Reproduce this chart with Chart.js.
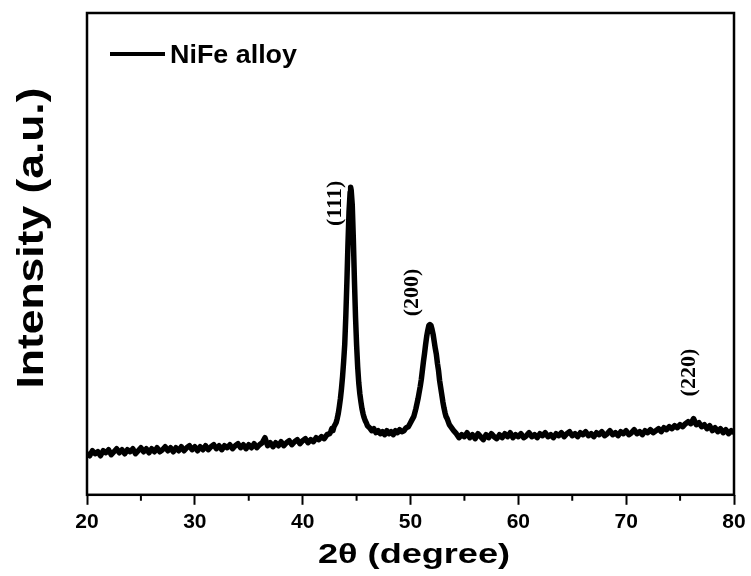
<!DOCTYPE html>
<html>
<head>
<meta charset="utf-8">
<style>
  html, body { margin: 0; padding: 0; background: #fff; }
  canvas { display: block; }
</style>
</head>
<body>
<canvas id="xrd" width="751" height="576"></canvas>
<script src="https://cdn.jsdelivr.net/npm/chart.js@4.4.1/dist/chart.umd.min.js"></script>
<script>
// 2θ (degree) and intensity (a.u.)
const angles = [
  20.00, 20.25, 20.50, 20.75, 21.00, 21.25, 21.50, 21.75, 22.00, 22.25, 22.50, 22.75,
  23.00, 23.25, 23.50, 23.75, 24.00, 24.25, 24.50, 24.75, 25.00, 25.25, 25.50, 25.75,
  26.00, 26.25, 26.50, 26.75, 27.00, 27.25, 27.50, 27.75, 28.00, 28.25, 28.50, 28.75,
  29.00, 29.25, 29.50, 29.75, 30.00, 30.25, 30.50, 30.75, 31.00, 31.25, 31.50, 31.75,
  32.00, 32.25, 32.50, 32.75, 33.00, 33.25, 33.50, 33.75, 34.00, 34.25, 34.50, 34.75,
  35.00, 35.25, 35.50, 35.75, 36.00, 36.25, 36.50, 36.75, 37.00, 37.25, 37.50, 37.75,
  38.00, 38.25, 38.50, 38.75, 39.00, 39.25, 39.50, 39.75, 40.00, 40.25, 40.50, 40.75,
  41.00, 41.25, 41.50, 41.75, 42.00, 42.25, 42.50,
  42.6, 42.7, 42.8, 42.9, 43.0, 43.1, 43.2, 43.3, 43.4, 43.5, 43.6, 43.7, 43.8, 43.9,
  44.0, 44.1, 44.2, 44.3, 44.4, 44.45, 44.5, 44.6, 44.7, 44.8, 44.9, 45.0, 45.1, 45.2,
  45.3, 45.4, 45.5, 45.6, 45.7, 45.8, 45.9, 46.0, 46.2, 46.4,
  46.6, 46.8, 47.0, 47.2, 47.4, 47.6, 47.8, 48.0, 48.2, 48.4, 48.6, 48.8, 49.0, 49.2,
  49.4, 49.6, 49.8,
  50.0, 50.1, 50.2, 50.3, 50.4, 50.5, 50.6, 50.7, 50.8, 50.9, 51.0, 51.1, 51.2, 51.3,
  51.4, 51.5, 51.6, 51.7, 51.8, 51.9, 52.0, 52.1, 52.2, 52.3, 52.4, 52.5, 52.6, 52.7,
  52.8, 52.9, 53.0, 53.1, 53.2, 53.3, 53.4, 53.5, 53.6, 53.8, 54.0,
  54.25, 54.50, 54.75, 55.00, 55.25, 55.50, 55.75, 56.00, 56.25, 56.50, 56.75, 57.00,
  57.25, 57.50, 57.75, 58.00, 58.25, 58.50, 58.75, 59.00, 59.25, 59.50, 59.75, 60.00,
  60.25, 60.50, 60.75, 61.00, 61.25, 61.50, 61.75, 62.00, 62.25, 62.50, 62.75, 63.00,
  63.25, 63.50, 63.75, 64.00, 64.25, 64.50, 64.75, 65.00, 65.25, 65.50, 65.75, 66.00,
  66.25, 66.50, 66.75, 67.00, 67.25, 67.50, 67.75, 68.00, 68.25, 68.50, 68.75, 69.00,
  69.25, 69.50, 69.75, 70.00, 70.25, 70.50, 70.75, 71.00, 71.25, 71.50, 71.75, 72.00,
  72.25, 72.50, 72.75, 73.00, 73.25, 73.50, 73.75, 74.00, 74.25, 74.50, 74.75, 75.00,
  75.25, 75.50, 75.75, 76.00, 76.25, 76.50, 76.75, 77.00, 77.25, 77.50, 77.75, 78.00,
  78.25, 78.50, 78.75, 79.00, 79.25, 79.50, 79.75, 80.00
];
const counts = [
  42, 39, 44, 41, 43, 39, 44, 42, 45, 40, 43, 46,
  42, 45, 41, 45, 43, 46, 41, 44, 47, 43, 46, 42,
  46, 43, 47, 43, 45, 48, 44, 47, 43, 47, 44, 48,
  44, 47, 49, 45, 48, 44, 48, 45, 49, 45, 48, 50,
  46, 49, 45, 49, 47, 50, 46, 49, 51, 47, 50, 46,
  50, 47, 51, 47, 50, 52, 57, 49, 52, 48, 52, 49,
  53, 49, 52, 54, 50, 53, 55, 51, 54, 56, 52, 55,
  53, 57, 55, 58, 56, 60, 61,
  63, 66, 64, 68, 70, 72, 76, 81, 88, 96, 106, 118, 133, 150,
  178, 212, 250, 283, 302, 307, 304, 289, 255, 214, 178, 150, 128, 112,
  101, 93, 86, 81, 77, 74, 72, 69, 67, 64,
  66, 62, 64, 61, 63, 60, 64, 61, 63, 60, 64, 62, 65, 63,
  64, 67, 68,
  72, 74, 76, 78, 82, 86, 91, 96, 102, 108, 115, 124, 133, 141,
  150, 158, 164, 169, 170, 169, 165, 160, 153, 146, 140, 131, 124, 114,
  107, 100, 93, 87, 82, 78, 76, 73, 70, 67, 64,
  61, 57, 60, 58, 62, 57, 60, 56, 61, 58, 55, 60,
  57, 61, 58, 56, 60, 57, 61, 58, 62, 57, 60, 58,
  61, 57, 59, 62, 58, 60, 57, 61, 59, 62, 58, 60,
  57, 61, 59, 62, 58, 61, 63, 59, 61, 58, 62, 60,
  63, 59, 61, 58, 62, 60, 63, 59, 61, 64, 60, 62,
  59, 63, 61, 64, 60, 62, 65, 61, 63, 60, 64, 62,
  65, 62, 64, 66, 63, 67, 65, 68, 66, 69, 67, 70,
  68, 71, 73, 71, 76, 70, 72, 68, 70, 66, 69, 64,
  67, 63, 66, 62, 65, 61, 64, 62
];

const xTicks = [20, 30, 40, 50, 60, 70, 80];
const xMinorTicks = [25, 35, 45, 55, 65, 75];

// peak labels: hkl, 2θ and intensity where the text is centred
const peakNames = ['(111)', '(200)', '(220)'];
const peakAngles = [42.9, 50.05, 75.74];
const peakLevels = [291, 202, 122];

const seriesName = 'NiFe alloy';

// stretched text, the original lettering is wider than Arial
function wideText(ctx, text, x, y, width, rotate) {
  ctx.save();
  ctx.translate(x, y);
  if (rotate) ctx.rotate(-Math.PI / 2);
  const w = ctx.measureText(text).width;
  ctx.scale(width / w, 1);
  ctx.fillText(text, 0, 0);
  ctx.restore();
}

const decorations = {
  id: 'decorations',
  afterDraw(chart) {
    const { ctx, chartArea: a, scales: { x, y } } = chart;
    ctx.save();

    // box frame
    ctx.strokeStyle = '#000';
    ctx.lineWidth = 2.5;
    ctx.strokeRect(a.left, a.top, a.right - a.left, a.bottom - a.top);

    // minor ticks
    ctx.lineWidth = 2;
    ctx.beginPath();
    xMinorTicks.forEach(v => {
      const px = x.getPixelForValue(v);
      ctx.moveTo(px, a.bottom);
      ctx.lineTo(px, a.bottom + 6);
    });
    ctx.stroke();

    // legend
    ctx.lineWidth = 4;
    ctx.beginPath();
    ctx.moveTo(110, 54);
    ctx.lineTo(165, 54);
    ctx.stroke();
    ctx.fillStyle = '#000';
    ctx.font = 'bold 25px "Liberation Sans", Arial, sans-serif';
    ctx.textAlign = 'left';
    ctx.textBaseline = 'alphabetic';
    wideText(ctx, seriesName, 170, 63, 127, false);

    // peak labels
    ctx.font = 'bold 22px "Liberation Serif", "Times New Roman", serif';
    ctx.textAlign = 'center';
    ctx.textBaseline = 'middle';
    peakNames.forEach((name, i) => {
      ctx.save();
      ctx.translate(x.getPixelForValue(peakAngles[i]), y.getPixelForValue(peakLevels[i]));
      ctx.rotate(-Math.PI / 2);
      ctx.fillText(name, 0, 1);
      ctx.restore();
    });

    // axis titles
    ctx.textBaseline = 'alphabetic';
    ctx.font = 'bold 28px "Liberation Sans", Arial, sans-serif';
    wideText(ctx, '2\u03B8 (degree)', 414, 563, 192, false);
    ctx.font = 'bold 36px "Liberation Sans", Arial, sans-serif';
    wideText(ctx, 'Intensity (a.u.)', 43, 238, 301, true);

    ctx.restore();
  }
};

new Chart(document.getElementById('xrd'), {
  type: 'line',
  data: {
    datasets: [{
      label: seriesName,
      data: angles.map((a, i) => ({ x: a, y: counts[i] })),
      borderColor: '#000',
      borderWidth: 5.5,
      borderJoinStyle: 'round',
      pointRadius: 0,
      tension: 0,
    }],
  },
  options: {
    responsive: false,
    animation: false,
    layout: { padding: { left: 87, top: 13, right: 17, bottom: 36 } },
    plugins: {
      legend: { display: false },
      tooltip: { enabled: false },
    },
    scales: {
      x: {
        type: 'linear',
        min: 20,
        max: 80,
        afterBuildTicks: s => { s.ticks = xTicks.map(v => ({ value: v })); },
        border: { display: false },
        grid: {
          drawOnChartArea: false,
          drawTicks: true,
          tickLength: 10,
          tickWidth: 2,
          tickColor: '#000',
        },
        ticks: {
          padding: 5,
          color: '#000',
          maxRotation: 0,
          autoSkip: false,
          font: { family: '"Liberation Sans", Arial, sans-serif', weight: 'bold', size: 21 },
        },
      },
      y: { display: false, min: 0, max: 481 },
    },
  },
  plugins: [decorations],
});
</script>
</body>
</html>
